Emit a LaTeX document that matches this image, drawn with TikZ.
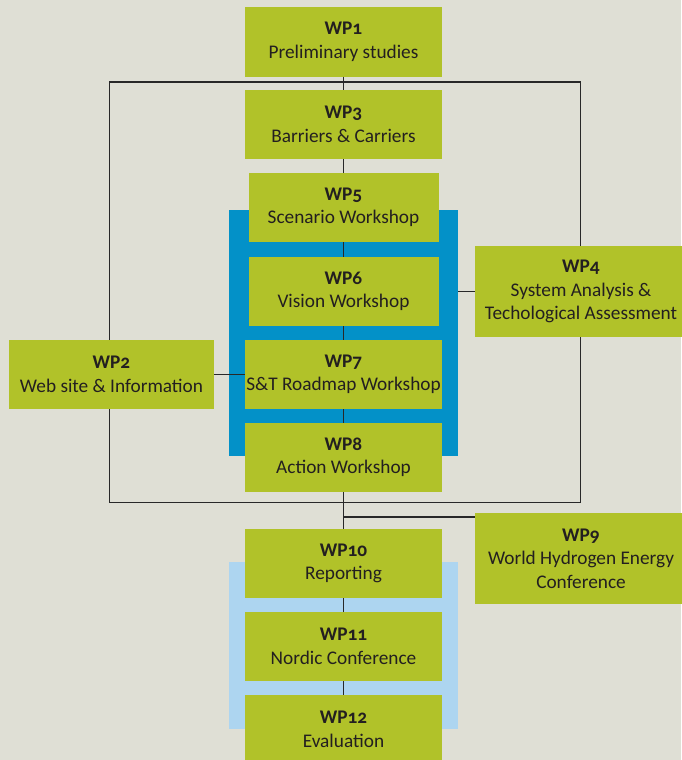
\documentclass[tikz,border=0pt]{standalone}
\usepackage{fontspec}
\setmainfont[Numbers=OldStyle]{Carlito}
\usepackage{xcolor}
\usepackage{tikz}

\definecolor{wpbg}{RGB}{223,223,213}
\definecolor{wpgreen}{RGB}{177,194,41}
\definecolor{wpblue}{RGB}{3,145,200}
\definecolor{wplight}{RGB}{173,213,240}
\definecolor{wptext}{RGB}{35,31,32}
\definecolor{wpline}{RGB}{40,40,40}

\begin{document}
\begin{tikzpicture}[x=1pt, y=-1pt,
    wp/.style={fill=wpgreen, text=wptext, align=center, inner sep=0pt,
        minimum width=197pt, minimum height=69pt,
        font=\fontsize{19.3}{23.5}\selectfont},
    panel/.style={inner sep=0pt, minimum width=229pt},
    link/.style={draw=wpline, line width=1.3pt}]
    \useasboundingbox (0,0) rectangle (681,760);
    \fill[wpbg] (0,0) rectangle (681,760);
    % frame round WP3 to WP8
    \coordinate (frametl) at (109.5,82);
    \coordinate (framebr) at (580.5,502.5);
    \draw[link] (frametl) rectangle (framebr);
    % coloured panels
    \node[panel, fill=wpblue, minimum height=246pt] (workshops) at (343.5,333) {};
    \node[panel, fill=wplight, minimum height=167pt] (closing) at (343.5,645.5) {};
    % work packages
    \node[wp] (wp1) at (343.5,42) {\textbf{WP1}\\Preliminary studies};
    \node[wp] (wp3) at (343.5,124.5) {\textbf{WP3}\\Barriers \& Carriers};
    \node[wp, minimum width=190pt] (wp5) at (343.5,207.5) {\textbf{WP5}\\Scenario Workshop};
    \node[wp, minimum width=190pt] (wp6) at (343.5,291.5) {\textbf{WP6}\\Vision Workshop};
    \node[wp] (wp7) at (343.5,374.5) {\textbf{WP7}\\S\&T Roadmap Workshop};
    \node[wp] (wp8) at (343.5,457.5) {\textbf{WP8}\\Action Workshop};
    \node[wp] (wp10) at (343.5,563.5) {\textbf{WP10}\\Reporting};
    \node[wp] (wp11) at (343.5,646.5) {\textbf{WP11}\\Nordic Conference};
    \node[wp] (wp12) at (343.5,729.5) {\textbf{WP12}\\Evaluation};
    \node[wp, minimum width=205pt] (wp2) at (111.5,374.5) {\textbf{WP2}\\Web site \& Information};
    \node[wp, minimum width=212pt, minimum height=91pt] (wp4) at (581,291.5)
        {\textbf{WP4}\\System Analysis \&\\Techological Assessment};
    \node[wp, minimum width=212pt, minimum height=91pt] (wp9) at (581,558.5)
        {\textbf{WP9}\\World Hydrogen Energy\\Conference};
    % connectors
    \draw[link] (wp1) -- (wp3);
    \draw[link] (wp3) -- (wp5);
    \draw[link] (wp5) -- (wp6);
    \draw[link] (wp6) -- (wp7);
    \draw[link] (wp7) -- (wp8);
    \draw[link] (wp8) -- (wp10);
    \draw[link] (wp10) -- (wp11);
    \draw[link] (wp11) -- (wp12);
    \draw[link] (wp2) -- (wp7);
    \draw[link] (wp4.west) -- (wp4.west -| workshops.east);
    \coordinate (hub) at (343.5,517);
    \draw[link] (hub) -- (hub -| wp9.west);
\end{tikzpicture}
\end{document}
